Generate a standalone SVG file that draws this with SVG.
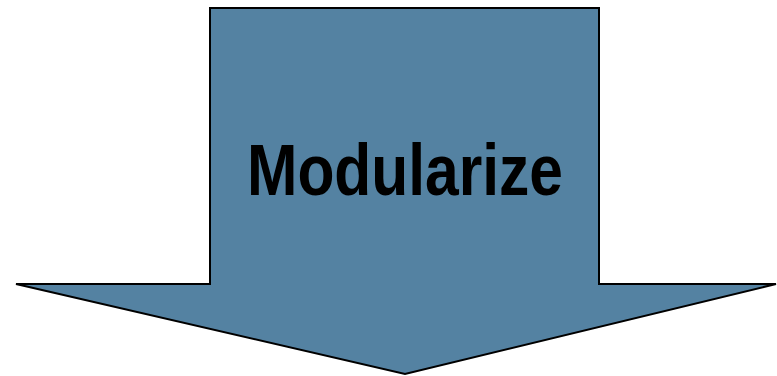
<svg xmlns="http://www.w3.org/2000/svg" width="777" height="376" viewBox="0 0 777 376">
  <style>
    .arrow { fill: #5482a2; stroke: #000; stroke-width: 2; stroke-linejoin: miter; }
    .label { font-family: "Liberation Sans", Arial, sans-serif; font-weight: bold; font-size: 72px; fill: #000; }
  </style>
  <rect width="777" height="376" fill="#fff"/>
  <g id="modularize">
    <path class="arrow" d="M210,8 L599,8 L599,284 L776,284 L405,374 L16,284 L210,284 Z"/>
    <text class="label" x="405" y="195" text-anchor="middle" textLength="316" lengthAdjust="spacingAndGlyphs">Modularize</text>
  </g>
</svg>
